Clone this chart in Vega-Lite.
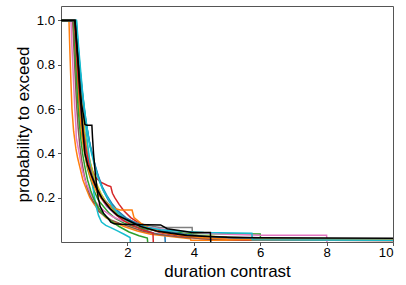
{
"$schema": "https://vega.github.io/schema/vega-lite/v6.json",
"width": 332, "height": 236,
"autosize": {"type": "none"},
"padding": {"left": 61, "top": 6, "right": 13, "bottom": 43},
"background": "white",
"config": {
  "view": {"stroke": "#555", "strokeWidth": 1},
  "font": "Liberation Sans",
  "axis": {"domain": false, "grid": false, "tickColor": "#555", "tickSize": 3.5, "tickWidth": 1, "labelFontSize": 13.2, "labelColor": "black", "titleFontSize": 17, "titleFontWeight": "normal", "titleColor": "black", "labelFont": "Liberation Sans", "titleFont": "Liberation Sans"}
},
"data": {"values": [
{"s":"s0","x":0,"y":1},{"s":"s0","x":0.46,"y":1},{"s":"s0","x":0.52,"y":0.88},{"s":"s0","x":0.58,"y":0.77},{"s":"s0","x":0.65,"y":0.67},{"s":"s0","x":0.72,"y":0.58},{"s":"s0","x":0.8,"y":0.5},{"s":"s0","x":0.88,"y":0.43},{"s":"s0","x":0.97,"y":0.38},{"s":"s0","x":1.05,"y":0.33},{"s":"s0","x":1.15,"y":0.28},{"s":"s0","x":1.28,"y":0.23},{"s":"s0","x":1.42,"y":0.19},{"s":"s0","x":1.58,"y":0.155},{"s":"s0","x":1.75,"y":0.125},{"s":"s0","x":1.95,"y":0.1},{"s":"s0","x":2.2,"y":0.075},{"s":"s0","x":2.5,"y":0.055},{"s":"s0","x":2.8,"y":0.04},{"s":"s0","x":3.13,"y":0.03},{"s":"s0","x":3.14,"y":0},
{"s":"s1","x":0,"y":1},{"s":"s1","x":0.24,"y":1},{"s":"s1","x":0.27,"y":0.85},{"s":"s1","x":0.3,"y":0.72},{"s":"s1","x":0.33,"y":0.6},{"s":"s1","x":0.38,"y":0.5},{"s":"s1","x":0.45,"y":0.42},{"s":"s1","x":0.5,"y":0.38},{"s":"s1","x":0.58,"y":0.33},{"s":"s1","x":0.66,"y":0.28},{"s":"s1","x":0.76,"y":0.24},{"s":"s1","x":0.87,"y":0.2},{"s":"s1","x":1.0,"y":0.17},{"s":"s1","x":1.15,"y":0.14},{"s":"s1","x":1.35,"y":0.11},{"s":"s1","x":1.6,"y":0.09},{"s":"s1","x":1.9,"y":0.07},{"s":"s1","x":2.3,"y":0.05},{"s":"s1","x":2.7,"y":0.035},{"s":"s1","x":3.3,"y":0.025},{"s":"s1","x":3.9,"y":0.015},{"s":"s1","x":3.91,"y":0.008},{"s":"s1","x":10,"y":0.008},
{"s":"s2","x":0,"y":1},{"s":"s2","x":0.41,"y":1},{"s":"s2","x":0.46,"y":0.87},{"s":"s2","x":0.5,"y":0.76},{"s":"s2","x":0.55,"y":0.65},{"s":"s2","x":0.6,"y":0.55},{"s":"s2","x":0.66,"y":0.46},{"s":"s2","x":0.73,"y":0.39},{"s":"s2","x":0.8,"y":0.33},{"s":"s2","x":0.9,"y":0.28},{"s":"s2","x":1.0,"y":0.23},{"s":"s2","x":1.12,"y":0.19},{"s":"s2","x":1.28,"y":0.16},{"s":"s2","x":1.45,"y":0.13},{"s":"s2","x":1.65,"y":0.105},{"s":"s2","x":1.9,"y":0.085},{"s":"s2","x":2.2,"y":0.07},{"s":"s2","x":2.6,"y":0.057},{"s":"s2","x":3.1,"y":0.047},{"s":"s2","x":3.8,"y":0.04},{"s":"s2","x":4.6,"y":0.037},{"s":"s2","x":6.0,"y":0.036},{"s":"s2","x":6.01,"y":0.014},{"s":"s2","x":10,"y":0.013},
{"s":"s3","x":0,"y":1},{"s":"s3","x":0.43,"y":1},{"s":"s3","x":0.48,"y":0.88},{"s":"s3","x":0.53,"y":0.77},{"s":"s3","x":0.58,"y":0.67},{"s":"s3","x":0.64,"y":0.58},{"s":"s3","x":0.7,"y":0.5},{"s":"s3","x":0.77,"y":0.43},{"s":"s3","x":0.85,"y":0.37},{"s":"s3","x":0.95,"y":0.32},{"s":"s3","x":1.05,"y":0.29},{"s":"s3","x":1.2,"y":0.27},{"s":"s3","x":1.4,"y":0.255},{"s":"s3","x":1.5,"y":0.25},{"s":"s3","x":1.55,"y":0.22},{"s":"s3","x":1.62,"y":0.2},{"s":"s3","x":1.75,"y":0.17},{"s":"s3","x":1.9,"y":0.14},{"s":"s3","x":2.1,"y":0.11},{"s":"s3","x":2.35,"y":0.085},{"s":"s3","x":2.65,"y":0.06},{"s":"s3","x":3.0,"y":0.042},{"s":"s3","x":3.5,"y":0.028},{"s":"s3","x":4.2,"y":0.016},{"s":"s3","x":5.5,"y":0.01},{"s":"s3","x":10,"y":0.009},
{"s":"s4","x":0,"y":1},{"s":"s4","x":0.42,"y":1},{"s":"s4","x":0.47,"y":0.88},{"s":"s4","x":0.52,"y":0.76},{"s":"s4","x":0.57,"y":0.65},{"s":"s4","x":0.62,"y":0.56},{"s":"s4","x":0.68,"y":0.47},{"s":"s4","x":0.75,"y":0.4},{"s":"s4","x":0.83,"y":0.34},{"s":"s4","x":0.93,"y":0.29},{"s":"s4","x":1.05,"y":0.24},{"s":"s4","x":1.2,"y":0.2},{"s":"s4","x":1.38,"y":0.16},{"s":"s4","x":1.6,"y":0.13},{"s":"s4","x":1.85,"y":0.1},{"s":"s4","x":2.15,"y":0.08},{"s":"s4","x":2.5,"y":0.065},{"s":"s4","x":3.0,"y":0.05},{"s":"s4","x":3.6,"y":0.036},{"s":"s4","x":4.4,"y":0.025},{"s":"s4","x":5.5,"y":0.016},{"s":"s4","x":10,"y":0.013},
{"s":"s5","x":0,"y":1},{"s":"s5","x":0.35,"y":1},{"s":"s5","x":0.39,"y":0.87},{"s":"s5","x":0.43,"y":0.74},{"s":"s5","x":0.47,"y":0.62},{"s":"s5","x":0.52,"y":0.51},{"s":"s5","x":0.57,"y":0.43},{"s":"s5","x":0.63,"y":0.36},{"s":"s5","x":0.7,"y":0.3},{"s":"s5","x":0.78,"y":0.25},{"s":"s5","x":0.88,"y":0.21},{"s":"s5","x":0.98,"y":0.18},{"s":"s5","x":1.1,"y":0.16},{"s":"s5","x":1.12,"y":0.14},{"s":"s5","x":1.3,"y":0.12},{"s":"s5","x":1.5,"y":0.1},{"s":"s5","x":1.75,"y":0.085},{"s":"s5","x":2.05,"y":0.07},{"s":"s5","x":2.45,"y":0.05},{"s":"s5","x":2.9,"y":0.035},{"s":"s5","x":3.6,"y":0.022},{"s":"s5","x":4.5,"y":0.012},{"s":"s5","x":10,"y":0.006},
{"s":"s6","x":0,"y":1},{"s":"s6","x":0.3,"y":1},{"s":"s6","x":0.33,"y":0.88},{"s":"s6","x":0.37,"y":0.75},{"s":"s6","x":0.41,"y":0.62},{"s":"s6","x":0.45,"y":0.52},{"s":"s6","x":0.46,"y":0.47},{"s":"s6","x":0.5,"y":0.44},{"s":"s6","x":0.56,"y":0.39},{"s":"s6","x":0.63,"y":0.33},{"s":"s6","x":0.72,"y":0.28},{"s":"s6","x":0.83,"y":0.24},{"s":"s6","x":0.95,"y":0.2},{"s":"s6","x":1.1,"y":0.17},{"s":"s6","x":1.3,"y":0.14},{"s":"s6","x":1.55,"y":0.115},{"s":"s6","x":1.85,"y":0.095},{"s":"s6","x":2.2,"y":0.08},{"s":"s6","x":2.7,"y":0.066},{"s":"s6","x":3.3,"y":0.053},{"s":"s6","x":4.0,"y":0.043},{"s":"s6","x":5.0,"y":0.035},{"s":"s6","x":6.0,"y":0.031},{"s":"s6","x":8.0,"y":0.031},{"s":"s6","x":8.01,"y":0},
{"s":"s7","x":0,"y":1},{"s":"s7","x":0.43,"y":1},{"s":"s7","x":0.48,"y":0.89},{"s":"s7","x":0.53,"y":0.78},{"s":"s7","x":0.58,"y":0.68},{"s":"s7","x":0.64,"y":0.58},{"s":"s7","x":0.7,"y":0.5},{"s":"s7","x":0.77,"y":0.43},{"s":"s7","x":0.85,"y":0.37},{"s":"s7","x":0.94,"y":0.31},{"s":"s7","x":1.05,"y":0.26},{"s":"s7","x":1.18,"y":0.22},{"s":"s7","x":1.32,"y":0.19},{"s":"s7","x":1.5,"y":0.16},{"s":"s7","x":1.7,"y":0.13},{"s":"s7","x":1.95,"y":0.105},{"s":"s7","x":2.25,"y":0.088},{"s":"s7","x":2.6,"y":0.075},{"s":"s7","x":2.98,"y":0.066},{"s":"s7","x":3.95,"y":0.066},{"s":"s7","x":3.96,"y":0.03},{"s":"s7","x":5.0,"y":0.02},{"s":"s7","x":6.5,"y":0.012},{"s":"s7","x":10,"y":0.01},
{"s":"s8","x":0,"y":1},{"s":"s8","x":0.44,"y":1},{"s":"s8","x":0.49,"y":0.88},{"s":"s8","x":0.54,"y":0.77},{"s":"s8","x":0.6,"y":0.67},{"s":"s8","x":0.66,"y":0.57},{"s":"s8","x":0.72,"y":0.49},{"s":"s8","x":0.8,"y":0.42},{"s":"s8","x":0.88,"y":0.36},{"s":"s8","x":0.97,"y":0.31},{"s":"s8","x":1.08,"y":0.26},{"s":"s8","x":1.2,"y":0.22},{"s":"s8","x":1.35,"y":0.18},{"s":"s8","x":1.55,"y":0.145},{"s":"s8","x":1.78,"y":0.115},{"s":"s8","x":2.05,"y":0.09},{"s":"s8","x":2.4,"y":0.07},{"s":"s8","x":2.85,"y":0.052},{"s":"s8","x":3.4,"y":0.04},{"s":"s8","x":4.1,"y":0.03},{"s":"s8","x":5.0,"y":0.022},{"s":"s8","x":6.5,"y":0.015},{"s":"s8","x":10,"y":0.012},
{"s":"s9","x":0,"y":1},{"s":"s9","x":0.45,"y":1},{"s":"s9","x":0.5,"y":0.9},{"s":"s9","x":0.56,"y":0.8},{"s":"s9","x":0.62,"y":0.7},{"s":"s9","x":0.7,"y":0.6},{"s":"s9","x":0.76,"y":0.5},{"s":"s9","x":0.82,"y":0.42},{"s":"s9","x":0.88,"y":0.34},{"s":"s9","x":0.94,"y":0.27},{"s":"s9","x":1.0,"y":0.21},{"s":"s9","x":1.06,"y":0.16},{"s":"s9","x":1.13,"y":0.12},{"s":"s9","x":1.22,"y":0.09},{"s":"s9","x":1.35,"y":0.075},{"s":"s9","x":1.5,"y":0.065},{"s":"s9","x":1.7,"y":0.05},{"s":"s9","x":1.9,"y":0.035},{"s":"s9","x":2.08,"y":0.02},{"s":"s9","x":2.09,"y":0},
{"s":"s10","x":0,"y":1},{"s":"s10","x":0.44,"y":1},{"s":"s10","x":0.49,"y":0.9},{"s":"s10","x":0.55,"y":0.8},{"s":"s10","x":0.62,"y":0.7},{"s":"s10","x":0.68,"y":0.62},{"s":"s10","x":0.75,"y":0.54},{"s":"s10","x":0.8,"y":0.5},{"s":"s10","x":0.86,"y":0.45},{"s":"s10","x":0.94,"y":0.4},{"s":"s10","x":1.02,"y":0.35},{"s":"s10","x":1.12,"y":0.3},{"s":"s10","x":1.24,"y":0.25},{"s":"s10","x":1.38,"y":0.21},{"s":"s10","x":1.55,"y":0.17},{"s":"s10","x":1.72,"y":0.14},{"s":"s10","x":1.95,"y":0.11},{"s":"s10","x":2.25,"y":0.085},{"s":"s10","x":2.6,"y":0.065},{"s":"s10","x":3.1,"y":0.048},{"s":"s10","x":3.7,"y":0.035},{"s":"s10","x":4.6,"y":0.022},{"s":"s10","x":6.0,"y":0.014},{"s":"s10","x":10,"y":0.011},
{"s":"s11","x":0,"y":1},{"s":"s11","x":0.39,"y":1},{"s":"s11","x":0.43,"y":0.88},{"s":"s11","x":0.47,"y":0.77},{"s":"s11","x":0.52,"y":0.66},{"s":"s11","x":0.57,"y":0.56},{"s":"s11","x":0.63,"y":0.48},{"s":"s11","x":0.7,"y":0.41},{"s":"s11","x":0.78,"y":0.35},{"s":"s11","x":0.87,"y":0.3},{"s":"s11","x":0.97,"y":0.26},{"s":"s11","x":1.1,"y":0.22},{"s":"s11","x":1.25,"y":0.19},{"s":"s11","x":1.4,"y":0.17},{"s":"s11","x":1.55,"y":0.16},{"s":"s11","x":1.65,"y":0.15},{"s":"s11","x":1.78,"y":0.144},{"s":"s11","x":2.14,"y":0.144},{"s":"s11","x":2.2,"y":0.11},{"s":"s11","x":2.4,"y":0.085},{"s":"s11","x":2.7,"y":0.06},{"s":"s11","x":3.1,"y":0.042},{"s":"s11","x":3.6,"y":0.03},{"s":"s11","x":4.2,"y":0.02},{"s":"s11","x":5.0,"y":0.012},{"s":"s11","x":10,"y":0.01},
{"s":"s12","x":0,"y":1},{"s":"s12","x":0.38,"y":1},{"s":"s12","x":0.42,"y":0.87},{"s":"s12","x":0.46,"y":0.75},{"s":"s12","x":0.5,"y":0.64},{"s":"s12","x":0.55,"y":0.54},{"s":"s12","x":0.6,"y":0.46},{"s":"s12","x":0.66,"y":0.39},{"s":"s12","x":0.73,"y":0.33},{"s":"s12","x":0.8,"y":0.28},{"s":"s12","x":0.9,"y":0.23},{"s":"s12","x":1.0,"y":0.19},{"s":"s12","x":1.15,"y":0.15},{"s":"s12","x":1.3,"y":0.12},{"s":"s12","x":1.5,"y":0.095},{"s":"s12","x":1.75,"y":0.07},{"s":"s12","x":2.05,"y":0.045},{"s":"s12","x":2.35,"y":0.028},{"s":"s12","x":2.6,"y":0.018},{"s":"s12","x":2.61,"y":0},
{"s":"s13","x":0,"y":1},{"s":"s13","x":0.4,"y":1},{"s":"s13","x":0.45,"y":0.88},{"s":"s13","x":0.5,"y":0.77},{"s":"s13","x":0.56,"y":0.66},{"s":"s13","x":0.62,"y":0.57},{"s":"s13","x":0.68,"y":0.49},{"s":"s13","x":0.75,"y":0.42},{"s":"s13","x":0.83,"y":0.36},{"s":"s13","x":0.92,"y":0.3},{"s":"s13","x":1.02,"y":0.26},{"s":"s13","x":1.15,"y":0.22},{"s":"s13","x":1.3,"y":0.18},{"s":"s13","x":1.48,"y":0.15},{"s":"s13","x":1.68,"y":0.12},{"s":"s13","x":1.9,"y":0.095},{"s":"s13","x":2.15,"y":0.075},{"s":"s13","x":2.45,"y":0.055},{"s":"s13","x":2.77,"y":0.04},{"s":"s13","x":2.78,"y":0},
{"s":"s14","x":0,"y":1},{"s":"s14","x":0.47,"y":1},{"s":"s14","x":0.53,"y":0.88},{"s":"s14","x":0.6,"y":0.76},{"s":"s14","x":0.66,"y":0.66},{"s":"s14","x":0.74,"y":0.56},{"s":"s14","x":0.83,"y":0.47},{"s":"s14","x":0.92,"y":0.4},{"s":"s14","x":1.02,"y":0.34},{"s":"s14","x":1.12,"y":0.29},{"s":"s14","x":1.25,"y":0.24},{"s":"s14","x":1.4,"y":0.2},{"s":"s14","x":1.55,"y":0.16},{"s":"s14","x":1.72,"y":0.13},{"s":"s14","x":1.95,"y":0.1},{"s":"s14","x":2.25,"y":0.08},{"s":"s14","x":2.6,"y":0.065},{"s":"s14","x":3.0,"y":0.055},{"s":"s14","x":3.6,"y":0.048},{"s":"s14","x":4.3,"y":0.043},{"s":"s14","x":5.75,"y":0.04},{"s":"s14","x":5.76,"y":0.01},{"s":"s14","x":10,"y":0.008},
{"s":"s15","x":0,"y":1},{"s":"s15","x":0.42,"y":1},{"s":"s15","x":0.47,"y":0.9},{"s":"s15","x":0.52,"y":0.8},{"s":"s15","x":0.57,"y":0.7},{"s":"s15","x":0.62,"y":0.62},{"s":"s15","x":0.68,"y":0.57},{"s":"s15","x":0.72,"y":0.53},{"s":"s15","x":0.78,"y":0.527},{"s":"s15","x":0.93,"y":0.527},{"s":"s15","x":0.95,"y":0.47},{"s":"s15","x":0.98,"y":0.4},{"s":"s15","x":1.02,"y":0.33},{"s":"s15","x":1.07,"y":0.26},{"s":"s15","x":1.12,"y":0.2},{"s":"s15","x":1.18,"y":0.16},{"s":"s15","x":1.28,"y":0.13},{"s":"s15","x":1.4,"y":0.11},{"s":"s15","x":1.5,"y":0.09},{"s":"s15","x":1.6,"y":0.082},{"s":"s15","x":1.8,"y":0.08},{"s":"s15","x":3.0,"y":0.077},{"s":"s15","x":3.2,"y":0.06},{"s":"s15","x":3.95,"y":0.043},{"s":"s15","x":4.5,"y":0.043},{"s":"s15","x":4.51,"y":0},
{"s":"k","x":0,"y":1},{"s":"k","x":0.42,"y":1},{"s":"k","x":0.47,"y":0.9},{"s":"k","x":0.52,"y":0.8},{"s":"k","x":0.56,"y":0.7},{"s":"k","x":0.61,"y":0.6},{"s":"k","x":0.66,"y":0.5},{"s":"k","x":0.72,"y":0.4},{"s":"k","x":0.8,"y":0.35},{"s":"k","x":0.92,"y":0.3},{"s":"k","x":1.05,"y":0.25},{"s":"k","x":1.22,"y":0.2},{"s":"k","x":1.48,"y":0.15},{"s":"k","x":1.7,"y":0.12},{"s":"k","x":1.98,"y":0.1},{"s":"k","x":2.4,"y":0.07},{"s":"k","x":2.88,"y":0.05},{"s":"k","x":3.3,"y":0.04},{"s":"k","x":3.79,"y":0.03},{"s":"k","x":4.4,"y":0.025},{"s":"k","x":5.2,"y":0.021},{"s":"k","x":6.0,"y":0.019},{"s":"k","x":10,"y":0.017}
]},
"encoding": {
  "x": {"field": "x", "type": "quantitative", "title": "duration contrast",
        "scale": {"domain": [0, 10], "nice": false, "zero": false},
        "axis": {"values": [2, 4, 6, 8, 10], "format": "d", "labelPadding": 1, "titlePadding": 5}},
  "y": {"field": "y", "type": "quantitative", "title": "probability to exceed",
        "scale": {"domain": [0, 1.065], "nice": false, "zero": false},
        "axis": {"values": [0.2, 0.4, 0.6, 0.8, 1.0], "format": ".1f", "labelPadding": 3, "titlePadding": 4}}
},
"layer": [
  {"transform": [{"filter": "datum.s != 'k'"}],
   "mark": {"type": "line", "interpolate": "linear", "strokeWidth": 1.5, "clip": true},
   "encoding": {"color": {"field": "s", "type": "nominal", "legend": null,
     "scale": {"domain": ["s0","s1","s2","s3","s4","s5","s6","s7","s8","s9","s10","s11","s12","s13","s14","s15"],
               "range": ["#1f77b4","#ff7f0e","#2ca02c","#d62728","#9467bd","#8c564b","#e377c2","#7f7f7f","#bcbd22","#17becf","#1f77b4","#ff7f0e","#2ca02c","#d62728","#17becf","#000000"]}}}},
  {"transform": [{"filter": "datum.s == 'k'"}],
   "mark": {"type": "line", "interpolate": "linear", "strokeWidth": 1.6, "color": "black", "clip": true},
   "encoding": {}}
]
}
